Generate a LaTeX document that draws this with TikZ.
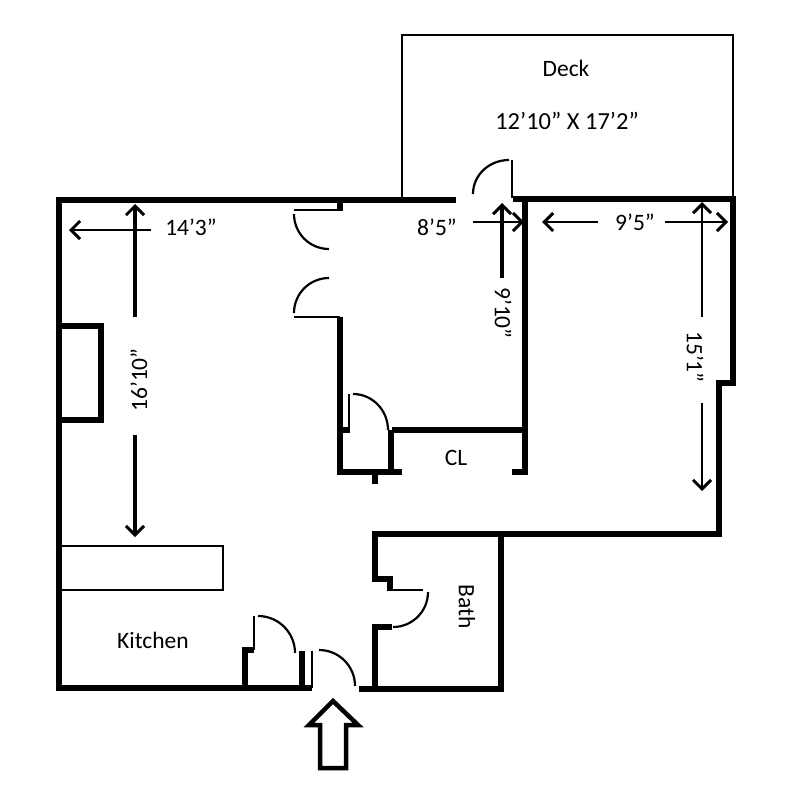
\documentclass[tikz,border=0pt]{standalone}
\usepackage{fontspec}
\setmainfont{Carlito}
\usetikzlibrary{arrows.meta}
\tikzset{
  wall/.style={line width=6.5pt,miter limit=4},
  thinwall/.style={line width=2.2pt},
  doorswing/.style={line width=2.2pt},
  dimline/.style={line width=2.4pt,-{Straight Barb[length=9pt,width=18pt,line width=3pt]}},
  dimbold/.style={dimline,line width=3.4pt},
  label/.style={font=\fontsize{23.5}{26}\selectfont,inner sep=0pt}
}
\begin{document}
\begin{tikzpicture}[x=1pt,y=-1pt]
  \useasboundingbox (0,0) rectangle (787,800);
  % outer walls
  \draw[wall] (456,200) -- (59,200) -- (59,688) -- (312,688);
  \draw[wall] (359,689) -- (504,689);
  \draw[wall] (513,199) -- (733,199) -- (733,383) -- (719,383) -- (719,534) -- (375,534) -- (375,579) -- (390,579) -- (390,591);
  \draw[wall] (392,627) -- (375,627) -- (375,689);
  \draw[wall] (501,534) -- (501,692);
  % fireplace
  \draw[wall] (59,326) -- (101,326) -- (101,420) -- (59,420);
  % inner walls and closet
  \draw[wall] (525,199) -- (525,475);
  \draw[wall] (512,472) -- (528,472);
  \draw[wall] (392,430) -- (525,430);
  \draw[wall] (391,430) -- (391,472);
  \draw[wall] (340,317) -- (340,472) -- (402,472);
  \draw[wall] (340,430) -- (350,430);
  \draw[wall] (375,472) -- (375,484);
  \draw[wall] (340,200) -- (340,211);
  % kitchen closet
  \draw[wall] (254,650) -- (245,650) -- (245,688);
  \draw[wall] (302,651) -- (302,688);
  % thin door leaves, deck and counter
  \draw[thinwall] (402,197) -- (402,35) -- (733,35) -- (733,197);
  \draw[thinwall] (60,546) rectangle (223,590);
  \draw[thinwall] (294,210) -- (340,210);
  \draw[thinwall] (294,317) -- (340,317);
  \draw[thinwall] (512,160) -- (512,198);
  \draw[thinwall] (349,394) -- (349,430);
  \draw[thinwall] (254,616) -- (254,650);
  \draw[thinwall] (312,651) -- (312,688);
  \draw[thinwall] (393,590) -- (423,590);
  % door swings
  \draw[doorswing] (294,214) to[out=-90,in=180] (329,249);
  \draw[doorswing] (329,278) to[out=180,in=90] (294,313);
  \draw[doorswing] (353,394) to[out=0,in=90] (388,430);
  \draw[doorswing] (509,160) to[out=180,in=90] (473,194);
  \draw[doorswing] (258,616) to[out=0,in=90] (295,653);
  \draw[doorswing] (319,650) to[out=0,in=90] (355,686);
  \draw[doorswing] (393,627) to[out=0,in=-90] (428,592);
  % entry arrow
  \draw[line width=4.5pt,miter limit=4] (333,701) -- (358,725) -- (346,725) -- (346,768)
    -- (320,768) -- (320,725) -- (309,725) -- cycle;
  % dimensions
  \draw[dimline] (151,230) -- (69,230);
  \draw[dimline] (473,222) -- (524,222);
  \draw[dimline] (598,222) -- (542,222);
  \draw[dimline] (665,222) -- (728,222);
  \draw[dimbold] (135,317) -- (135,204);
  \draw[dimbold] (135,435) -- (135,537);
  \draw[dimbold] (502,278) -- (502,203);
  \draw[dimline] (702,317) -- (702,202);
  \draw[dimline] (702,403) -- (702,491);
  % labels
  \node[label] (deck) at (566,68) {Deck};
  \node[label,font=\fontsize{24.5}{27}\selectfont] (decksize) at (567,121) {12’10” X 17’2”};
  \node[label] (closet) at (456,458) {CL};
  \node[label] (kitchen) at (153,640) {Kitchen};
  \node[label,rotate=-90] (bath) at (467,607) {Bath};
  \node[label] (widthA) at (191,227) {14’3”};
  \node[label] (widthB) at (437,227) {8’5”};
  \node[label] (widthC) at (635,222) {9’5”};
  \node[label,rotate=90] (heightA) at (139,380) {16’10”};
  \node[label,rotate=-90] (heightB) at (503,313) {9’10”};
  \node[label,rotate=-90] (heightC) at (695,357) {15’1”};
\end{tikzpicture}
\end{document}
